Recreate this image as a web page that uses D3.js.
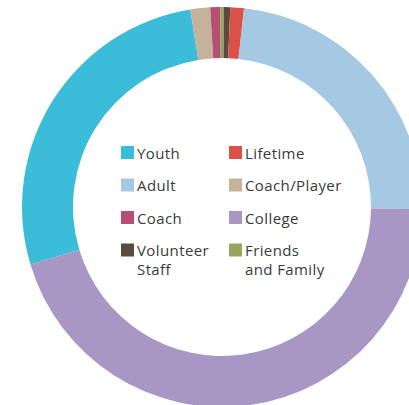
<!DOCTYPE html>
<html>
<head>
<meta charset="utf-8">
<script src="https://cdnjs.cloudflare.com/ajax/libs/d3/7.8.5/d3.min.js"></script>
<style>
  body { margin: 0; background: #fff; }
  svg { display: block; }
  .legend text { font-family: "Open Sans", sans-serif; font-size: 15px; letter-spacing: 0.4px; fill: #3a3a3a; }
</style>
</head>
<body>
<div id="chart"></div>
<script>
// legend order (row by row, two columns)
var categories = ["Youth", "Lifetime", "Adult", "Coach/Player", "Coach", "College", "Volunteer\nStaff", "Friends\nand Family"];
var shares     = [27.1, 1.1, 23.4, 1.6, 0.8, 45.2, 0.5, 0.3];
var colors     = ["#3bbcd9", "#dc5147", "#a5c8e3", "#c4b29b", "#b64f73", "#a896c4", "#5a4a40", "#98a55e"];

// order of the slices going clockwise round the ring
var ringOrder = ["Youth", "Coach/Player", "Coach", "Friends\nand Family", "Volunteer\nStaff", "Lifetime", "Adult", "College"];
var ringStart = 253.3; // degrees, where Youth begins

var width = 409, height = 405;
var cx = 222, cy = 207;
var outerR = 200, innerR = 149;

var svg = d3.select("#chart").append("svg")
    .attr("width", width)
    .attr("height", height);

var data = categories.map(function(c, i) {
  return { name: c, value: shares[i], color: colors[i] };
});

var ringData = ringOrder.map(function(n) {
  return data.find(function(d) { return d.name === n; });
});

var start = ringStart * Math.PI / 180;
var pie = d3.pie()
    .sort(null)
    .value(function(d) { return d.value; })
    .startAngle(start)
    .endAngle(start + 2 * Math.PI);

var arc = d3.arc()
    .innerRadius(innerR)
    .outerRadius(outerR);

var ring_g = svg.append("g")
    .attr("transform", "translate(" + cx + "," + cy + ")");

ring_g.selectAll("path")
    .data(pie(ringData))
    .enter().append("path")
    .attr("d", arc)
    .attr("fill", function(d) { return d.data.color; });

// -------- legend --------
var colX = d3.scaleOrdinal().domain([0, 1]).range([121, 229]);
var rowY = d3.scaleLinear().domain([0, 3]).range([146, 243.5]);

var legend_g = svg.append("g").attr("class", "legend");

var items = legend_g.selectAll("g.item")
    .data(data)
    .enter().append("g")
    .attr("class", "item")
    .attr("transform", function(d, i) {
      return "translate(" + colX(i % 2) + "," + rowY(Math.floor(i / 2)) + ")";
    });

items.append("rect")
    .attr("width", 13)
    .attr("height", 13)
    .attr("fill", function(d) { return d.color; });

items.append("text")
    .attr("x", 16)
    .attr("y", 12.5)
    .each(function(d) {
      var lines = d.name.split("\n");
      var t = d3.select(this);
      lines.forEach(function(l, k) {
        t.append("tspan")
          .attr("x", 16)
          .attr("dy", k === 0 ? 0 : 19)
          .text(l);
      });
    });
</script>
</body>
</html>
